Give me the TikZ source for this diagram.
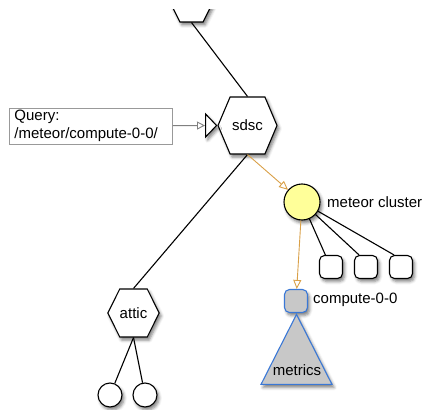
\documentclass[tikz,border=0pt]{standalone}
\usepackage{fontspec}
\setmainfont{Liberation Sans}
\usetikzlibrary{shapes.symbols,shapes.geometric,arrows.meta,shadows.blur}
\definecolor{hint}{RGB}{217,160,72}
\definecolor{sel}{RGB}{58,120,214}
\definecolor{pale}{RGB}{255,255,153}
\definecolor{tone}{RGB}{200,200,200}

\begin{document}
\begin{tikzpicture}[
        x=1pt,y=-1pt,
        every node/.style={font=\fontsize{15}{18}\selectfont,inner sep=0pt},
        soft/.style={blur shadow={shadow xshift=2pt,shadow yshift=-3pt,shadow blur radius=3pt,shadow opacity=50}},
        site/.style={signal,signal to=west and east,draw,fill=white,line width=1.1pt,soft},
        host/.style={draw,fill=white,rounded corners=5pt,minimum size=23pt,line width=1.1pt,soft},
        leaf/.style={circle,draw,fill=white,minimum size=24pt,line width=1.1pt,soft},
        edge/.style={line width=1.1pt},
        hint/.style={draw=hint,line width=0.9pt,-{Triangle[open,length=9pt,width=8pt]}}
    ]
        \useasboundingbox (0,0) rectangle (425,409);
        \clip (0,10) rectangle (425,409);

        \node[site,signal pointer angle=127,minimum width=47pt,minimum height=48pt] (top) at (191.5,-2) {};
        \node[site,signal pointer angle=134,minimum width=59pt,minimum height=57pt] (sdsc) at (247.5,125.5) {sdsc};
        \node[site,signal pointer angle=127,minimum width=47pt,minimum height=48pt] (attic) at (133.5,313) {attic};
        \node[isosceles triangle,isosceles triangle stretches,draw,fill=white,line width=1.1pt,
              minimum width=23pt,minimum height=11pt,anchor=apex,soft] (port) at (218,125.5) {};
        \node[draw=gray!80,line width=0.9pt,align=left,text width=153pt,inner xsep=5pt,inner ysep=2pt,
              minimum height=36pt,anchor=west] (query) at (9,126) {Query:\\/meteor/compute-0-0/};

        \node[circle,draw,fill=pale,minimum size=36pt,line width=1.1pt,soft] (meteor) at (302,202) {};
        \node[anchor=west] (meteorlbl) at (327,202) {meteor cluster};
        \node[host] (c1) at (331,267) {};
        \node[host] (c2) at (366,267) {};
        \node[host] (c3) at (401,267) {};
        \node[host,draw=sel,fill=tone] (comp) at (296,301) {};
        \node[anchor=west] (complbl) at (313,300) {compute-0-0};
        \node[isosceles triangle,isosceles triangle stretches,shape border rotate=90,draw=sel,fill=tone,
              line width=1.1pt,minimum width=71pt,minimum height=70pt,anchor=apex,soft] (metrics) at (296.5,313) {};
        \node (metricslbl) at (297,370) {metrics};

        \node[leaf] (l1) at (110,395) {};
        \node[leaf] (l2) at (145,395) {};

        \draw[edge] (top.south) -- (sdsc.north);
        \draw[edge] (sdsc.south) -- (attic.north);
        \draw[edge] (attic.south) -- (l1);
        \draw[edge] (attic.south) -- (l2);
        \draw[edge] (meteor) -- (c1.115);
        \draw[edge] (meteor) -- (c2.120);
        \draw[edge] (meteor) -- (c3.120);
        \draw[hint] (sdsc.south) -- (meteor);
        \draw[hint] (meteor) -- (comp);
        \draw[draw=gray,line width=0.9pt,-{Triangle[open,length=8pt,width=8pt]}] (query) -- (port);
    \end{tikzpicture}
\end{document}
